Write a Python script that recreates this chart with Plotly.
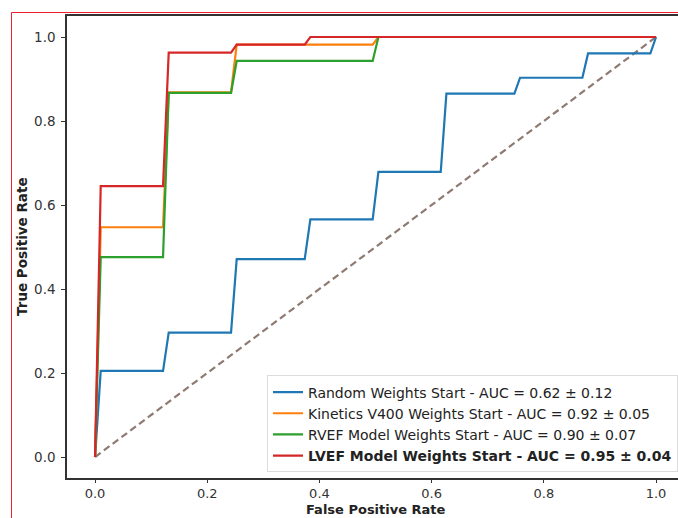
import plotly.graph_objects as go

# Mean ROC curve points
random_fpr = [0.0, 0.0101, 0.1212, 0.1313, 0.2424, 0.2525, 0.3737, 0.3838, 0.4949, 0.5051,
              0.6162, 0.6263, 0.7475, 0.7576, 0.8687, 0.8788, 0.9899, 1.0]
random_tpr = [0.0, 0.205, 0.205, 0.296, 0.296, 0.471, 0.471, 0.566, 0.566, 0.679,
              0.679, 0.865, 0.865, 0.903, 0.903, 0.961, 0.961, 1.0]

kinetics_fpr = [0.0, 0.0101, 0.1212, 0.1313, 0.2424, 0.2525, 0.4949, 0.5051, 1.0]
kinetics_tpr = [0.0, 0.547, 0.547, 0.868, 0.868, 0.982, 0.982, 1.0, 1.0]

rvef_fpr = [0.0, 0.0101, 0.1212, 0.1313, 0.2424, 0.2525, 0.4949, 0.5051, 1.0]
rvef_tpr = [0.0, 0.476, 0.476, 0.867, 0.867, 0.943, 0.943, 1.0, 1.0]

lvef_fpr = [0.0, 0.0101, 0.1212, 0.1313, 0.2424, 0.2525, 0.3737, 0.3838, 1.0]
lvef_tpr = [0.0, 0.645, 0.645, 0.963, 0.963, 0.982, 0.982, 1.0, 1.0]

chance_x = [0.0, 1.0]
chance_y = [0.0, 1.0]

series_names = [
    "Random Weights Start - AUC = 0.62 ± 0.12",
    "Kinetics V400 Weights Start - AUC = 0.92 ± 0.05",
    "RVEF Model Weights Start - AUC = 0.90 ± 0.07",
    "<b>LVEF Model Weights Start - AUC = 0.95 ± 0.04</b>",
]
series_colors = ["#1f77b4", "#ff7f0e", "#2ca02c", "#d62728"]
x_ticks = [0.0, 0.2, 0.4, 0.6, 0.8, 1.0]
y_ticks = [0.0, 0.2, 0.4, 0.6, 0.8, 1.0]

W, H = 678, 518
L, T, B = 67, 16, 40
plot_w = W - L
plot_h = H - T - B

fig = go.Figure()
fig.add_trace(go.Scatter(x=chance_x, y=chance_y, mode="lines", showlegend=False,
                         line=dict(color="#8f7a72", width=2.2, dash="7px,4px")))
for fx, fy, name, col in zip([random_fpr, kinetics_fpr, rvef_fpr, lvef_fpr],
                             [random_tpr, kinetics_tpr, rvef_tpr, lvef_tpr],
                             series_names, series_colors):
    fig.add_trace(go.Scatter(x=fx, y=fy, mode="lines", name=name,
                             line=dict(color=col, width=2.2)))

xr = [-0.05, -0.05 + plot_w / 561.0]
font = "DejaVu Sans"
fig.update_layout(
    width=W, height=H,
    margin=dict(l=L, r=0, t=T, b=B, pad=0),
    paper_bgcolor="white", plot_bgcolor="white",
    font=dict(family=font, size=13, color="#333333"),
    xaxis=dict(range=xr, tickvals=x_ticks, tickformat=".1f", showgrid=False, zeroline=False,
               showline=True, linecolor="#333333", linewidth=1.5, mirror=True,
               ticks="outside", ticklen=3, tickcolor="#333333", tickfont=dict(size=13),
               ticklabelstandoff=0),
    yaxis=dict(range=[-0.05, 1.05], tickvals=y_ticks, tickformat=".1f", showgrid=False,
               zeroline=False, showline=True, linecolor="#333333", linewidth=1.5,
               ticks="outside", ticklen=4, tickcolor="#333333", tickfont=dict(size=13.5),
               ticklabelstandoff=3),
    legend=dict(x=1.0, xanchor="right", y=0.012, yanchor="bottom",
                bgcolor="rgba(255,255,255,0.8)", bordercolor="#dcdcdc", borderwidth=1,
                font=dict(size=14, color="#222222"), itemwidth=30, tracegroupgap=0),
    showlegend=True,
)

fig.add_annotation(text="<b>False Positive Rate</b>", x=0.5, xref="x",
                   y=-B / plot_h, yref="paper", yanchor="bottom", borderpad=0,
                   showarrow=False, font=dict(size=13, color="#222222", family=font))
fig.add_annotation(text="<b>True Positive Rate</b>", x=(22 - L) / plot_w, xref="paper",
                   xanchor="center", y=0.5, yref="paper", textangle=-90, showarrow=False,
                   font=dict(size=13.5, color="#222222", family=font))

# red outer frame of the original image (top and left edges visible)
frame_left = (11.5 - L) / plot_w
frame_top = (H - B - 12.5) / plot_h
fig.add_shape(type="line", xref="paper", yref="paper",
              x0=frame_left, x1=(W + 5 - L) / plot_w, y0=frame_top, y1=frame_top,
              line=dict(color="#f0202a", width=1), layer="above")
fig.add_shape(type="line", xref="paper", yref="paper",
              x0=frame_left, x1=frame_left, y0=frame_top, y1=-(B + 5) / plot_h,
              line=dict(color="#f0202a", width=1), layer="above")

fig.write_html("out.html")
